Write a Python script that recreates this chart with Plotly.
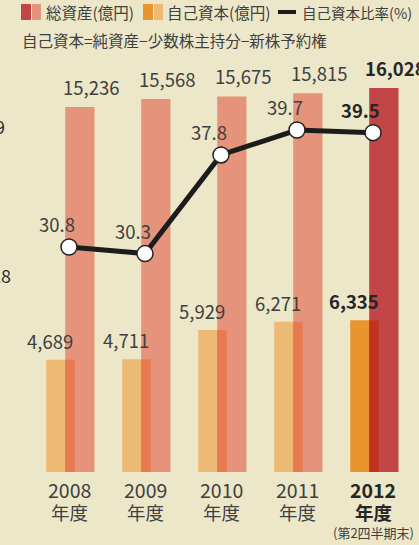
import plotly.graph_objects as go

# ---- data ----
years = ["2008", "2009", "2010", "2011", "2012"]
year_suffix = ["年度", "年度", "年度", "年度", "年度"]
note_last = "(第2四半期末)"
total_assets = [15236, 15568, 15675, 15815, 16028]   # 総資産(億円)
equity = [4689, 4711, 5929, 6271, 6335]              # 自己資本(億円)
equity_ratio = [30.8, 30.3, 37.8, 39.7, 39.5]        # 自己資本比率(%)
legend_labels = ["総資産(億円)", "自己資本(億円)", "自己資本比率(%)"]
note_text = "自己資本=純資産−少数株主持分−新株予約権"
edge_fragments = ["9", ")", "28"]

# ---- layout helpers ----
W, H = 419, 545
MB = 73
PH = H - MB
xs = list(range(len(years)))
hl = len(years) - 1
FONT = "Noto Sans CJK JP"
TXT = "#404040"
BG = "#ece7c8"


def pxx(p):
    return p / W


def pxy(p):
    return (PH - p) / PH


assets_colors = ["#c24548" if i == hl else "#e5937b" for i in xs]
equity_colors = ["#e8952f" if i == hl else "#edba76" for i in xs]
overlap_colors = ["#c1331f" if i == hl else "#e77b4f" for i in xs]

fig = go.Figure()
fig.add_trace(go.Bar(x=xs, y=equity, width=0.375, offset=-0.30,
                     marker=dict(color=equity_colors, line=dict(width=0)),
                     opacity=1, showlegend=False, hoverinfo="skip"))
fig.add_trace(go.Bar(x=xs, y=total_assets, width=0.385, offset=-0.05,
                     marker=dict(color=assets_colors, line=dict(width=0)),
                     opacity=1, showlegend=False, hoverinfo="skip"))
fig.add_trace(go.Bar(x=xs, y=equity, width=0.125, offset=-0.05,
                     marker=dict(color=overlap_colors, line=dict(width=0)),
                     opacity=1, showlegend=False, hoverinfo="skip"))
fig.add_trace(go.Scatter(x=xs, y=equity_ratio, yaxis="y2", mode="lines+markers",
                         line=dict(color="#1c1c1c", width=5),
                         marker=dict(size=16, color="white",
                                     line=dict(color="#222222", width=1.5)),
                         showlegend=False, hoverinfo="skip"))

ann = []
for i in xs:
    bold = i == hl
    col = "#262626" if bold else TXT

    def t(s):
        return f"<b>{s}</b>" if bold else s
    ann.append(dict(x=i + 0.29, y=total_assets[i], xref="x", yref="y",
                    text=t(f"{total_assets[i]:,}"), showarrow=False,
                    yanchor="middle", yshift=20,
                    font=dict(family=FONT, size=18.5, color=col)))
    ann.append(dict(x=i - 0.25, y=equity[i], xref="x", yref="y",
                    text=t(f"{equity[i]:,}"), showarrow=False,
                    yanchor="middle", yshift=19,
                    font=dict(family=FONT, size=18.5, color=col)))
    ann.append(dict(x=i - 0.16, y=equity_ratio[i], xref="x", yref="y2",
                    text=t(f"{equity_ratio[i]}"), showarrow=False,
                    yanchor="middle", yshift=23,
                    font=dict(family=FONT, size=18.5, color=col)))
    ann.append(dict(x=i, y=pxy(489), xref="x", yref="paper",
                    text=t(years[i]), showarrow=False, yanchor="middle",
                    font=dict(family=FONT, size=19.5, color=col)))
    ann.append(dict(x=i, y=pxy(512), xref="x", yref="paper",
                    text=t(year_suffix[i]), showarrow=False, yanchor="middle",
                    font=dict(family=FONT, size=18.5, color=col)))
ann.append(dict(x=hl, y=pxy(532), xref="x", yref="paper", text=note_last,
                showarrow=False, yanchor="middle",
                font=dict(family=FONT, size=13, color=TXT)))

# legend (manual, two-tone swatches)
shapes = []
sw = [("#c24548", "#e5937b", 21), ("#e8952f", "#edba76", 143)]
for dark, light, x0 in sw:
    shapes.append(dict(type="rect", xref="paper", yref="paper",
                       x0=pxx(x0), x1=pxx(x0 + 10), y0=pxy(20), y1=pxy(4),
                       fillcolor=dark, line=dict(width=0)))
    shapes.append(dict(type="rect", xref="paper", yref="paper",
                       x0=pxx(x0 + 11), x1=pxx(x0 + 20), y0=pxy(20), y1=pxy(4),
                       fillcolor=light, line=dict(width=0)))
shapes.append(dict(type="line", xref="paper", yref="paper",
                   x0=pxx(278), x1=pxx(296), y0=pxy(12), y1=pxy(12),
                   line=dict(color="#1c1c1c", width=4)))
for txt, x0, fs in zip(legend_labels, [44, 165, 300], [15.5, 15.5, 14.5]):
    ann.append(dict(x=pxx(x0), y=pxy(12), xref="paper", yref="paper",
                    text=txt, showarrow=False, xanchor="left", yanchor="middle",
                    font=dict(family=FONT, size=fs, color=TXT)))
ann.append(dict(x=pxx(20), y=pxy(40), xref="paper", yref="paper",
                text=note_text, showarrow=False, xanchor="left", yanchor="middle",
                font=dict(family=FONT, size=15.5, color=TXT)))

# cropped fragments at the left edge
for txt, xr, yc in zip(edge_fragments, [7, 3, 13], [126, 148, 275]):
    ann.append(dict(x=pxx(xr), y=pxy(yc), xref="paper", yref="paper",
                    text=txt, showarrow=False, xanchor="right", yanchor="middle",
                    font=dict(family=FONT, size=18, color="#2e2e2e")))

fig.update_layout(
    width=W, height=H,
    margin=dict(l=0, r=0, t=0, b=MB, pad=0),
    paper_bgcolor=BG, plot_bgcolor=BG,
    barmode="overlay",
    xaxis=dict(range=[-69 / 76, (W - 69) / 76], showticklabels=False,
               showgrid=False, zeroline=False, showline=False, ticks=""),
    yaxis=dict(range=[0, PH / 0.023956], showticklabels=False,
               showgrid=False, zeroline=False, showline=False, ticks=""),
    yaxis2=dict(range=[13.685, 49.589], overlaying="y", showticklabels=False,
                showgrid=False, zeroline=False, showline=False, ticks=""),
    annotations=ann, shapes=shapes,
    showlegend=False,
)

fig.write_html("out.html", config={"displayModeBar": False})
